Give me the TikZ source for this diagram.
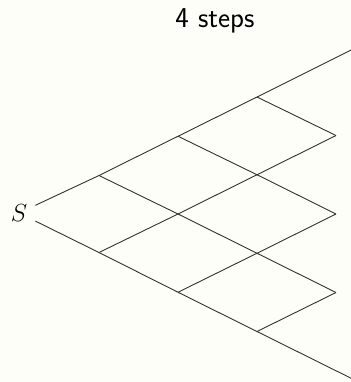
\documentclass[tikz,border=0pt]{standalone}
\definecolor{bgcol}{RGB}{254,254,248}
\definecolor{linecol}{RGB}{50,50,50}
\begin{document}
\begin{tikzpicture}[x=1bp,y=-1bp,
  edge/.style={draw=linecol,line width=0.9bp},
  lbl/.style={inner sep=0pt,font=\fontsize{28.9}{32}\selectfont}]
\fill[bgcol] (0,0) rectangle (351,382);
\useasboundingbox (0,0) rectangle (351,382);
\clip (0,0) rectangle (351,382);
\node[lbl,font=\fontsize{28.9}{32}\selectfont\sffamily,anchor=base] (title) at (215,27) {4 steps};
\node[inner sep=8bp,font=\fontsize{28.9}{32}\selectfont] (S) at (19,213) {$S$};
\coordinate (a1) at (99,175.5);
\coordinate (a2) at (99,252.5);
\coordinate (b1) at (178,136.25);
\coordinate (b2) at (178,214);
\coordinate (b3) at (178,292.25);
\coordinate (c1) at (257,97);
\coordinate (c2) at (257,174.75);
\coordinate (c3) at (257,253.25);
\coordinate (c4) at (257,331.5);
\coordinate (d1) at (415,18);
\coordinate (d2) at (336,135.5);
\coordinate (d3) at (336,214);
\coordinate (d4) at (336,292.5);
\coordinate (d5) at (415,410);
\draw[edge] (S) -- (a1);
\draw[edge] (S) -- (a2);
\draw[edge] (a1) -- (b1);
\draw[edge] (a1) -- (b2);
\draw[edge] (a2) -- (b2);
\draw[edge] (a2) -- (b3);
\draw[edge] (b1) -- (c1);
\draw[edge] (b1) -- (c2);
\draw[edge] (b2) -- (c2);
\draw[edge] (b2) -- (c3);
\draw[edge] (b3) -- (c3);
\draw[edge] (b3) -- (c4);
\draw[edge] (c1) -- (d1);
\draw[edge] (c1) -- (d2);
\draw[edge] (c2) -- (d2);
\draw[edge] (c2) -- (d3);
\draw[edge] (c3) -- (d3);
\draw[edge] (c3) -- (d4);
\draw[edge] (c4) -- (d4);
\draw[edge] (c4) -- (d5);
\end{tikzpicture}
\end{document}
